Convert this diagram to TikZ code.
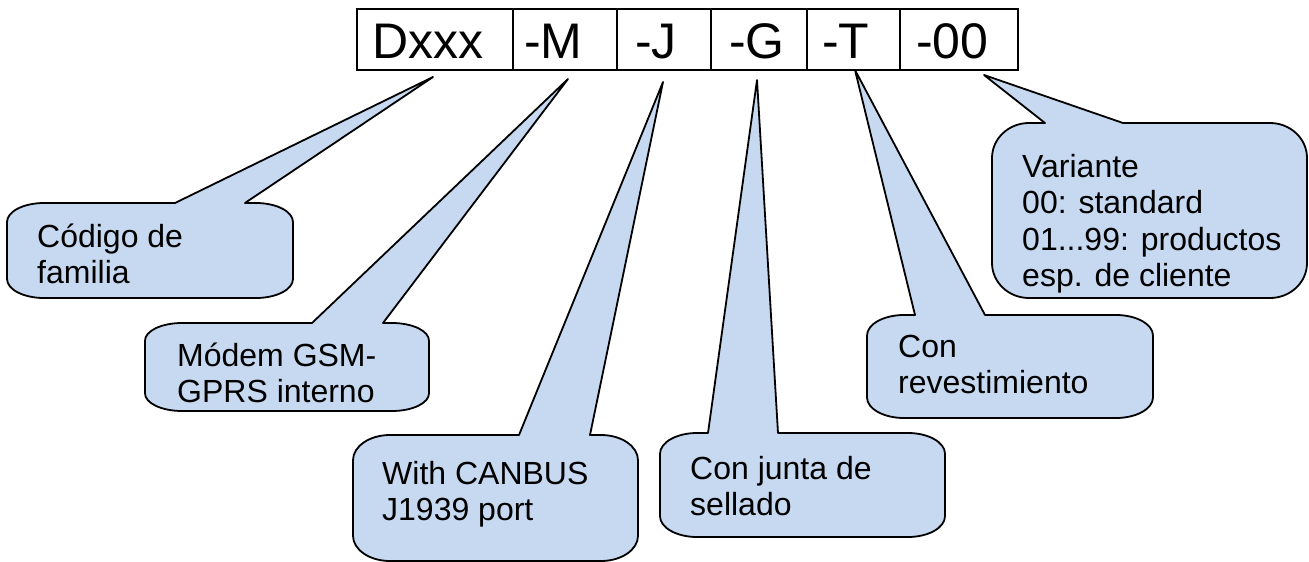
\documentclass[tikz,border=0pt]{standalone}
\usepackage{fontspec}
\setmainfont{Liberation Sans}
\definecolor{callfill}{HTML}{C6D9F1}
\tikzset{
  callbox/.style={draw=black, line width=1.8pt, fill=callfill, line join=round},
  cellbox/.style={draw=black, line width=2.2pt},
  celltext/.style={anchor=base west, inner sep=0pt, font=\fontsize{50}{58}\selectfont},
  calltext/.style={anchor=base west, inner sep=0pt, font=\fontsize{32}{36.5}\selectfont}
}
% #1 left, #2 top, #3 right, #4 bottom, #5 x1, #6 x2, #7 tip name
\newcommand\mycallout[7]{%
  \pgfmathsetmacro\ry{0.2*(#4-#2)}%
  \pgfmathsetmacro\rx{37}%
  \pgfmathsetmacro\kx{0.5523*\rx}%
  \pgfmathsetmacro\ky{0.5523*\ry}%
  \draw[callbox] (#5,#2) -- (#7) -- (#6,#2) -- ({#3-\rx},#2)
    .. controls ({#3-\rx+\kx},#2) and (#3,{#2+\ry-\ky}) .. (#3,{#2+\ry})
    -- (#3,{#4-\ry})
    .. controls (#3,{#4-\ry+\ky}) and ({#3-\rx+\kx},#4) .. ({#3-\rx},#4)
    -- ({#1+\rx},#4)
    .. controls ({#1+\rx-\kx},#4) and (#1,{#4-\ry+\ky}) .. (#1,{#4-\ry})
    -- (#1,{#2+\ry})
    .. controls (#1,{#2+\ry-\ky}) and ({#1+\rx-\kx},#2) .. ({#1+\rx},#2)
    -- cycle;
}
\begin{document}
\begin{tikzpicture}[x=1pt,y=-1pt]
\useasboundingbox (0,0) rectangle (1309,562);
% code cells
\draw[cellbox] (357,9) rectangle (1018,70);
\foreach \xx in {513,617,711,807,900} \draw[cellbox] (\xx,9) -- (\xx,70);
\node[celltext] (cD) at (372,58) {Dxxx};
\node[celltext] (cM) at (524,58) {-M};
\node[celltext] (cJ) at (635,58) {-J};
\node[celltext] (cG) at (729,58) {-G};
\node[celltext] (cT) at (822,58) {-T};
\node[celltext] (c0) at (916,58) {-00};
% callout tips
\coordinate (tD) at (433,77);
\coordinate (tM) at (568,79);
\coordinate (tJ) at (663,82);
\coordinate (tG) at (757,80);
\coordinate (tT) at (855,70);
\coordinate (t0) at (984,75);
% callouts
\mycallout{7}{203}{293}{298}{175}{245}{tD}
\mycallout{145}{323}{429}{411}{312}{383}{tM}
\mycallout{353}{435}{638}{561}{519}{590}{tJ}
\mycallout{660}{433}{945}{537}{708}{778}{tG}
\mycallout{867}{315}{1153}{418}{915}{985}{tT}
\mycallout{992}{123}{1307}{298}{1045}{1123}{t0}
% texts
\node[calltext] (kD) at (37,247) {\parbox[t]{250pt}{\raggedright Código de\\familia}};
\node[calltext] (kM) at (177,366) {\parbox[t]{250pt}{\raggedright Módem GSM-\\GPRS interno}};
\node[calltext] (kJ) at (382,484) {\parbox[t]{250pt}{\raggedright With CANBUS\\J1939 port}};
\node[calltext] (kG) at (690,479) {\parbox[t]{250pt}{\raggedright Con junta de\\sellado}};
\node[calltext] (kT) at (898,357) {\parbox[t]{250pt}{\raggedright Con\\revestimiento}};
\node[calltext] (k0) at (1022,177) {\parbox[t]{280pt}{\raggedright Variante\\00: standard\\01...99: productos\\esp. de cliente}};
\end{tikzpicture}
\end{document}
